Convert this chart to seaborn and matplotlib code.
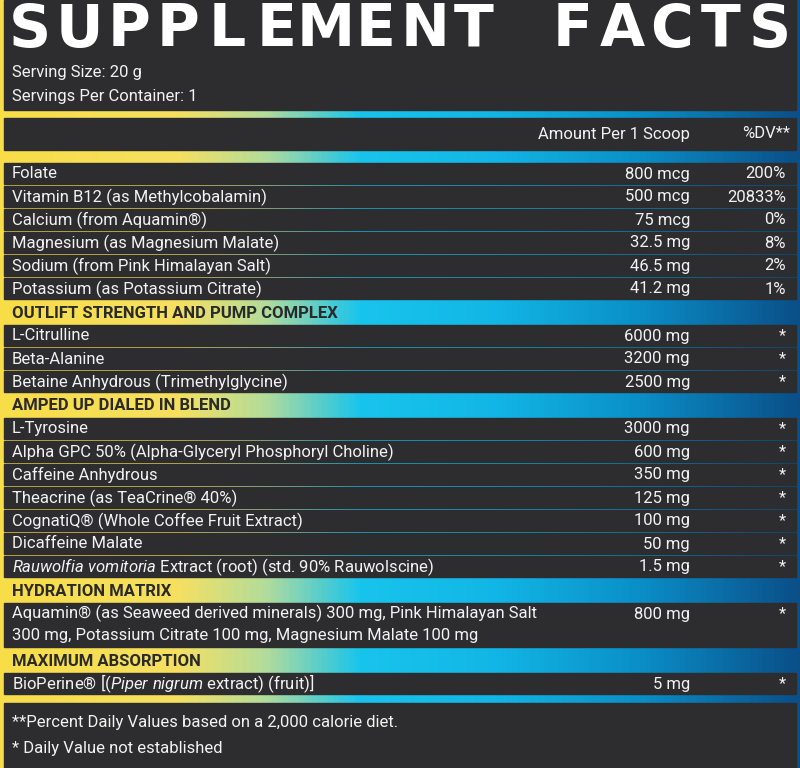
import numpy as np
import matplotlib.pyplot as plt
import seaborn as sns
from matplotlib.colors import LinearSegmentedColormap
from matplotlib.patches import Rectangle

sns.set_theme(style="white")
plt.rcParams['font.family'] = ['Roboto', 'DejaVu Sans']
plt.rcParams['mathtext.fontset'] = 'custom'
plt.rcParams['mathtext.it'] = 'Roboto:italic'
plt.rcParams['mathtext.rm'] = 'Roboto'

vitamins = ["Folate", "Vitamin B12 (as Methylcobalamin)", "Calcium (from Aquamin®)",
            "Magnesium (as Magnesium Malate)", "Sodium (from Pink Himalayan Salt)",
            "Potassium (as Potassium Citrate)"]
vitamin_amounts = ["800 mcg", "500 mcg", "75 mcg", "32.5 mg", "46.5 mg", "41.2 mg"]
vitamin_dv = ["200%", "20833%", "0%", "8%", "2%", "1%"]

outlift = ["L-Citrulline", "Beta-Alanine", "Betaine Anhydrous (Trimethylglycine)"]
outlift_amounts = ["6000 mg", "3200 mg", "2500 mg"]

amped = ["L-Tyrosine", "Alpha GPC 50% (Alpha-Glyceryl Phosphoryl Choline)", "Caffeine Anhydrous",
         "Theacrine (as TeaCrine® 40%)", "CognatiQ® (Whole Coffee Fruit Extract)", "Dicaffeine Malate",
         r"$\it{Rauwolfia\ vomitoria}$ Extract (root) (std. 90% Rauwolscine)"]
amped_amounts = ["3000 mg", "600 mg", "350 mg", "125 mg", "100 mg", "50 mg", "1.5 mg"]

hydration = ["Aquamin® (as Seaweed derived minerals) 300 mg, Pink Himalayan Salt\n"
             "300 mg, Potassium Citrate 100 mg, Magnesium Malate 100 mg"]
hydration_amounts = ["800 mg"]

absorption = [r"BioPerine® [($\it{Piper\ nigrum}$ extract) (fruit)]"]
absorption_amounts = ["5 mg"]

sections = [("OUTLIFT STRENGTH AND PUMP COMPLEX", outlift, outlift_amounts),
            ("AMPED UP DIALED IN BLEND", amped, amped_amounts),
            ("HYDRATION MATRIX", hydration, hydration_amounts),
            ("MAXIMUM ABSORPTION", absorption, absorption_amounts)]

DARK = "#2d2d2f"
TXT = "#f2f2f2"
W, H = 800, 768

fig = plt.figure(figsize=(8, 7.68), dpi=100)
ax = fig.add_axes([0, 0, 1, 1])
ax.set_xlim(0, W)
ax.set_ylim(H, 0)
ax.axis("off")

grad = LinearSegmentedColormap.from_list("g", [(0, "#f8dd48"), (0.22, "#f6e060"), (0.33, "#b4dc9a"),
                                               (0.45, "#18c4ec"), (0.62, "#12b6e6"), (0.8, "#0a8fc8"),
                                               (1, "#0a4f88")])
ax.imshow(np.linspace(0, 1, 400)[None, :], cmap=grad, aspect="auto", extent=(0, W, H, 0), zorder=0)

def box(y0, y1):
    ax.add_patch(Rectangle((4, y0), 792, y1 - y0, color=DARK, zorder=1))

fs = 12
# top block
box(0, 110)
title = "SUPPLEMENT FACTS"
xs = np.linspace(30, 770, len(title))
for ch, x in zip(title, xs):
    ax.text(x, 30, ch, color="white", fontsize=42, fontweight="bold", family=["DejaVu Sans"],
            ha="center", va="center", zorder=2)
ax.text(12, 72, "Serving Size: 20 g", color=TXT, fontsize=fs, va="center", zorder=2)
ax.text(12, 96, "Servings Per Container: 1", color=TXT, fontsize=fs, va="center", zorder=2)

box(118, 150)
ax.text(690, 134, "Amount Per 1 Scoop", color=TXT, fontsize=fs, ha="right", va="center", zorder=2)
ax.text(790, 134, "%DV**", color=TXT, fontsize=fs, ha="right", va="center", zorder=2)

rh = 23
y = 163
for n, a, d in zip(vitamins, vitamin_amounts, vitamin_dv):
    box(y, y + rh - 2)
    ax.text(12, y + 11, n, color=TXT, fontsize=fs, va="center", zorder=2)
    ax.text(690, y + 11, a, color=TXT, fontsize=fs, ha="right", va="center", zorder=2)
    ax.text(786, y + 11, d, color=TXT, fontsize=fs, ha="right", va="center", zorder=2)
    y += rh
for head, names, amts in sections:
    ax.text(12, y + 12, head, color="#2a2a2a", fontsize=fs, fontweight="bold", va="center", zorder=2)
    y += rh + 1
    for n, a in zip(names, amts):
        lines = n.count("\n") + 1
        h = rh * lines
        box(y, y + h - 2)
        if lines > 1:
            ax.text(12, y + 2, n, color=TXT, fontsize=fs, va="top", linespacing=1.5, zorder=2)
        else:
            ax.text(12, y + 11, n, color=TXT, fontsize=fs, va="center", zorder=2)
        ax.text(690, y + 11, a, color=TXT, fontsize=fs, ha="right", va="center", zorder=2)
        ax.text(786, y + 11, "*", color=TXT, fontsize=fs, ha="right", va="center", zorder=2)
        y += h

box(703, 768)
ax.text(12, 723, "**Percent Daily Values based on a 2,000 calorie diet.", color=TXT, fontsize=fs,
        va="center", zorder=2)
ax.text(12, 748, "* Daily Value not established", color=TXT, fontsize=fs, va="center", zorder=2)

fig.savefig("out.png", dpi=100)
